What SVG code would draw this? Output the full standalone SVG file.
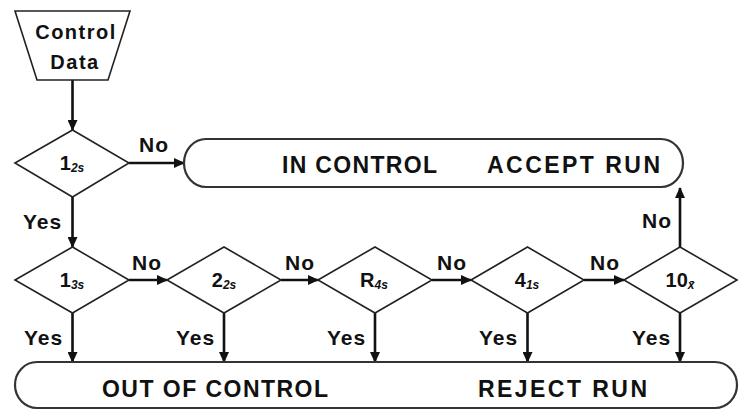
<svg xmlns="http://www.w3.org/2000/svg" width="742" height="411" viewBox="0 0 742 411">
<defs>
<marker id="ah" markerUnits="userSpaceOnUse" markerWidth="11" markerHeight="10" refX="10" refY="5" orient="auto">
<path d="M0,0 L11,5 L0,10 z" fill="#111"/>
</marker>
<style>
.shape{fill:#fff;stroke:#222;stroke-width:1.6}
.box{fill:#fff;stroke:#333;stroke-width:2.2}
.conn{fill:none;stroke:#111;stroke-width:2.6;marker-end:url(#ah)}
.lbl{font-family:"Liberation Sans",Arial,sans-serif;font-weight:bold;font-size:21px;fill:#111;letter-spacing:1px}
.big{font-family:"Liberation Sans",Arial,sans-serif;font-weight:bold;font-size:23px;fill:#111}
.dl{font-family:"Liberation Sans",Arial,sans-serif;font-weight:bold;font-size:20px;fill:#111;text-anchor:middle}
.sub{font-size:12px;font-style:italic}
</style>
</defs>
<rect width="742" height="411" fill="#fff"/>

<g id="connectors">
<line class="conn" x1="72.5" y1="80" x2="72.5" y2="130"/>
<line class="conn" x1="129" y1="163" x2="184" y2="163"/>
<line class="conn" x1="72.5" y1="197" x2="72.5" y2="247"/>
<line class="conn" x1="129" y1="280" x2="167" y2="280"/>
<line class="conn" x1="281" y1="280" x2="318" y2="280"/>
<line class="conn" x1="432" y1="280" x2="471" y2="280"/>
<line class="conn" x1="584" y1="280" x2="624" y2="280"/>
<line class="conn" x1="680" y1="247" x2="680" y2="188"/>
<line class="conn" x1="72.5" y1="313" x2="72.5" y2="362"/>
<line class="conn" x1="224" y1="313" x2="224" y2="362"/>
<line class="conn" x1="375" y1="313" x2="375" y2="362"/>
<line class="conn" x1="527.5" y1="313" x2="527.5" y2="362"/>
<line class="conn" x1="680" y1="313" x2="680" y2="362"/>
<text class="lbl" x="139" y="152">No</text>
<text class="lbl" x="23" y="229">Yes</text>
<text class="lbl" x="132" y="270">No</text>
<text class="lbl" x="285" y="270">No</text>
<text class="lbl" x="437" y="270">No</text>
<text class="lbl" x="590" y="270">No</text>
<text class="lbl" x="642" y="228">No</text>
<text class="lbl" x="24" y="345">Yes</text>
<text class="lbl" x="176" y="345">Yes</text>
<text class="lbl" x="327" y="345">Yes</text>
<text class="lbl" x="479" y="345">Yes</text>
<text class="lbl" x="632" y="345">Yes</text>
</g>

<g id="control-data">
<polygon class="shape" points="15,11 130,11 108,80 37,80"/>
<text class="lbl" x="76" y="39" text-anchor="middle" style="font-size:20px;letter-spacing:1.5px">Control</text>
<text class="lbl" x="75" y="69" text-anchor="middle" style="font-size:20px;letter-spacing:1.5px">Data</text>
</g>

<g id="d-1-2s">
<polygon class="shape" points="15,163 72.5,130 129,163 72.5,197"/>
<text class="dl" x="72" y="170">1<tspan class="sub" dy="2">2s</tspan></text>
</g>

<g id="in-control">
<rect class="box" x="184" y="139" width="499" height="48" rx="22" ry="24"/>
<text class="big" x="282" y="173" textLength="155" lengthAdjust="spacing">IN CONTROL</text>
<text class="big" x="487" y="173" textLength="173" lengthAdjust="spacing">ACCEPT RUN</text>
</g>

<g id="d-1-3s">
<polygon class="shape" points="15,280 72.5,247 129,280 72.5,313"/>
<text class="dl" x="72" y="287">1<tspan class="sub" dy="2">3s</tspan></text>
</g>

<g id="d-2-2s">
<polygon class="shape" points="167,280 224,247 281,280 224,313"/>
<text class="dl" x="224" y="287">2<tspan class="sub" dy="2">2s</tspan></text>
</g>

<g id="d-r-4s">
<polygon class="shape" points="318,280 375,247 432,280 375,313"/>
<text class="dl" x="374" y="287">R<tspan class="sub" dy="2">4s</tspan></text>
</g>

<g id="d-4-1s">
<polygon class="shape" points="471,280 527.5,247 584,280 527.5,313"/>
<text class="dl" x="527" y="287">4<tspan class="sub" dy="2">1s</tspan></text>
</g>

<g id="d-10-x">
<polygon class="shape" points="624,280 680,247 737,280 680,313"/>
<text class="dl" x="680" y="287">10<tspan class="sub" dy="2">x̄</tspan></text>
</g>

<g id="out-of-control">
<rect class="box" x="15" y="362" width="722" height="46" rx="22" ry="23"/>
<text class="big" x="102" y="397" textLength="226" lengthAdjust="spacing">OUT OF CONTROL</text>
<text class="big" x="478" y="397" textLength="169" lengthAdjust="spacing">REJECT RUN</text>
</g>
</svg>
